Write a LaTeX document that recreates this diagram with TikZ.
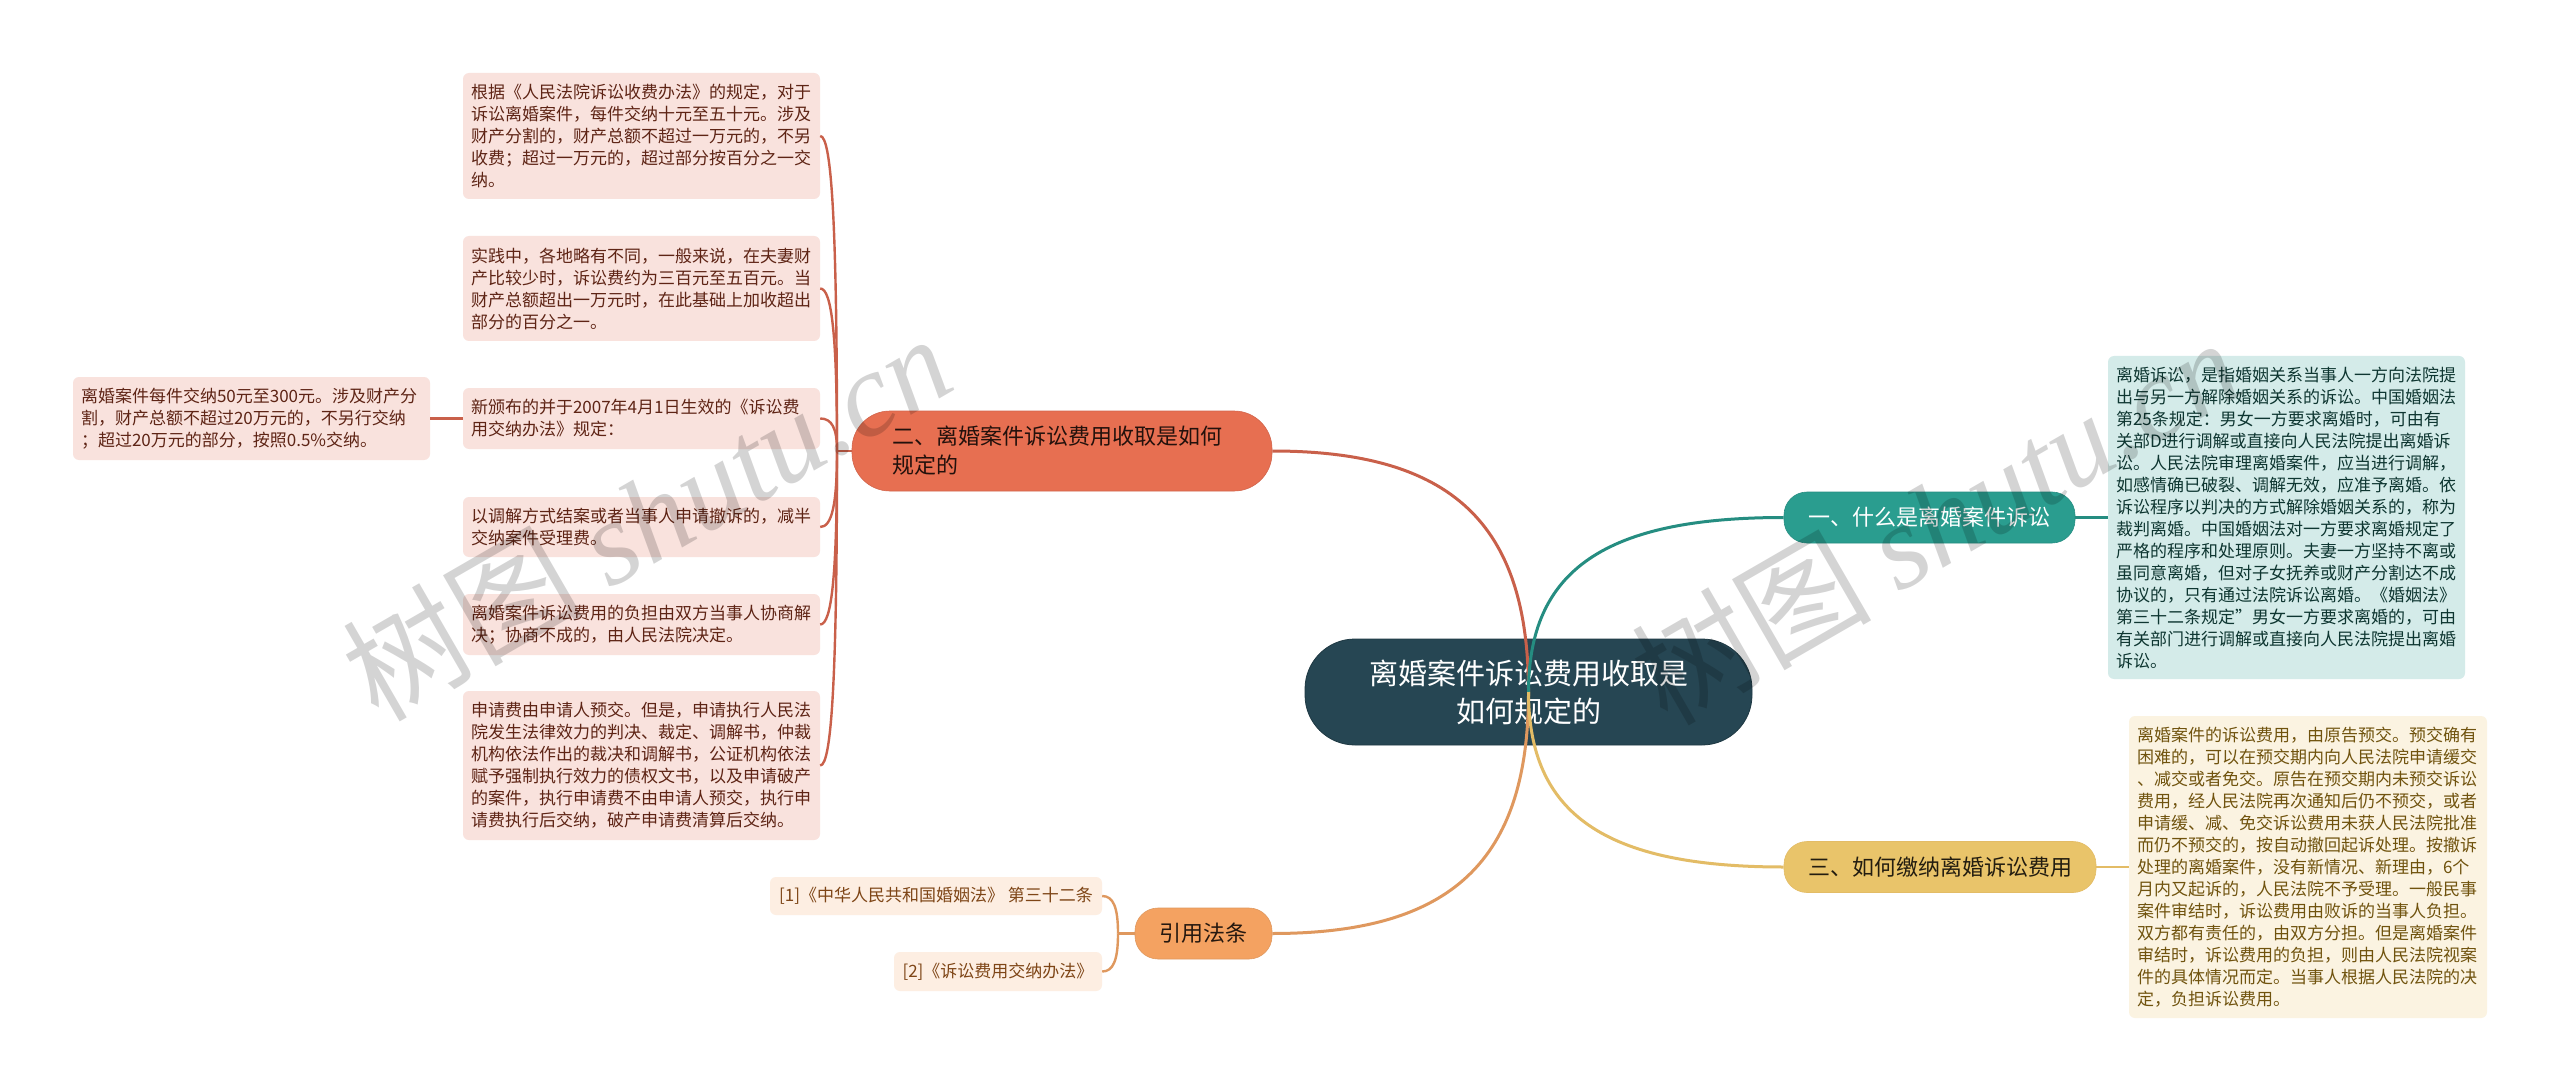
\documentclass[tikz,border=0pt]{standalone}
\usepackage{fontspec}
\setmainfont{Noto Sans CJK SC}
\newfontfamily\wmlat{Liberation Serif}
\usetikzlibrary{calc}
\definecolor{cdark}{HTML}{264653}
\definecolor{cred}{HTML}{E76F51}
\definecolor{cteal}{HTML}{2A9D8F}
\definecolor{cyel}{HTML}{E9C46A}
\definecolor{cora}{HTML}{F4A261}
\definecolor{lred}{HTML}{C9604A}
\definecolor{lteal}{HTML}{258D81}
\definecolor{lyel}{HTML}{E3BC66}
\definecolor{lora}{HTML}{DF985E}
\definecolor{tred}{HTML}{F9E2DD}
\definecolor{tteal}{HTML}{D4EBE9}
\definecolor{tyel}{HTML}{FBF3E1}
\definecolor{tora}{HTML}{FDEEE2}
\definecolor{xred}{HTML}{5E2415}
\definecolor{xteal}{HTML}{0E3631}
\definecolor{xyel}{HTML}{70530E}
\definecolor{xora}{HTML}{7E4516}
\tikzset{
  detailbox/.style={rectangle,rounded corners=6pt,inner sep=0pt,align=left,
    font=\fontsize{17}{22}\selectfont},
  redbox/.style={detailbox,fill=tred,text=xred},
  tealbox/.style={detailbox,fill=tteal,text=xteal},
  yelbox/.style={detailbox,fill=tyel,text=xyel},
  orabox/.style={detailbox,fill=tora,text=xora},
  branchbox/.style={rectangle,inner sep=0pt,align=left,line width=0.6pt,
    font=\fontsize{22}{29}\selectfont},
  rootbox/.style={rectangle,rounded corners=50pt,inner sep=0pt,align=center,
    fill=cdark,draw=cdark!80!black,line width=0.8pt,text=white,
    font=\fontsize{29}{38}\selectfont},
  mainline/.style={line width=3pt},
  subline/.style={line width=2.4pt},
  wmark/.style={rotate=30,text=black,text opacity=0.17,inner sep=0pt,
    font=\fontsize{120}{120}\selectfont}
}
\newcommand{\kurve}[3]{\draw[#1] (#2) .. controls ($(#2)!0.7!(#2|-#3)$) and ($(#3)!0.7!(#2|-#3)$) .. (#3);}
\begin{document}
\begin{tikzpicture}[x=1pt,y=-1pt]
\useasboundingbox (0,0) rectangle (2560,1091);
\fill[white] (0,0) rectangle (2560,1091);

% root
\node[rootbox,minimum width=447pt,minimum height=106pt] (root) at (1528.5,692) {离婚案件诉讼费用收取是\\如何规定的};

% branches
\node[branchbox,fill=cred,draw=lred!70!cred,rounded corners=38pt,minimum width=420pt,minimum height=80pt,text=black!85!cred,text width=340pt] (n2) at (1062,451) {二、离婚案件诉讼费用收取是如何\\规定的};
\node[branchbox,fill=cteal,draw=lteal,rounded corners=23pt,minimum width=291pt,minimum height=51pt,text=white] (n1) at (1929.5,517.5) {一、什么是离婚案件诉讼};
\node[branchbox,fill=cyel,draw=lyel,rounded corners=23pt,minimum width=312pt,minimum height=51pt,text=black!85!cyel] (n3) at (1940,867) {三、如何缴纳离婚诉讼费用};
\node[branchbox,fill=cora,draw=lora,rounded corners=23pt,minimum width=137pt,minimum height=51pt,text=black!85!cora] (n4) at (1203.5,933.5) {引用法条};

% details of branch two
\node[redbox,minimum width=357pt,minimum height=126pt,text width=341pt] (a1) at (641.5,136) {根据《人民法院诉讼收费办法》的规定，对于\\诉讼离婚案件，每件交纳十元至五十元。涉及\\财产分割的，财产总额不超过一万元的，不另\\收费；超过一万元的，超过部分按百分之一交\\纳。};
\node[redbox,minimum width=357pt,minimum height=105pt,text width=341pt] (a2) at (641.5,288.5) {实践中，各地略有不同，一般来说，在夫妻财\\产比较少时，诉讼费约为三百元至五百元。当\\财产总额超出一万元时，在此基础上加收超出\\部分的百分之一。};
\node[redbox,minimum width=357pt,minimum height=61pt,text width=341pt] (a3) at (641.5,418.5) {新颁布的并于2007年4月1日生效的《诉讼费\\用交纳办法》规定：};
\node[redbox,minimum width=357pt,minimum height=83pt,text width=341pt] (a7) at (251.5,418.5) {离婚案件每件交纳50元至300元。涉及财产分\\割，财产总额不超过20万元的，不另行交纳\\；超过20万元的部分，按照0.5\%交纳。};
\node[redbox,minimum width=357pt,minimum height=60pt,text width=341pt] (a4) at (641.5,527) {以调解方式结案或者当事人申请撤诉的，减半\\交纳案件受理费。};
\node[redbox,minimum width=357pt,minimum height=61pt,text width=341pt] (a5) at (641.5,624.5) {离婚案件诉讼费用的负担由双方当事人协商解\\决；协商不成的，由人民法院决定。};
\node[redbox,minimum width=357pt,minimum height=149pt,text width=341pt] (a6) at (641.5,765.5) {申请费由申请人预交。但是，申请执行人民法\\院发生法律效力的判决、裁定、调解书，仲裁\\机构依法作出的裁决和调解书，公证机构依法\\赋予强制执行效力的债权文书，以及申请破产\\的案件，执行申请费不由申请人预交，执行申\\请费执行后交纳，破产申请费清算后交纳。};

% details of the others
\node[tealbox,minimum width=357pt,minimum height=323pt,text width=341pt] (d1) at (2286.5,517.5) {离婚诉讼，是指婚姻关系当事人一方向法院提\\出与另一方解除婚姻关系的诉讼。中国婚姻法\\第25条规定：男女一方要求离婚时，可由有\\关部D进行调解或直接向人民法院提出离婚诉\\讼。人民法院审理离婚案件，应当进行调解，\\如感情确已破裂、调解无效，应准予离婚。依\\诉讼程序以判决的方式解除婚姻关系的，称为\\裁判离婚。中国婚姻法对一方要求离婚规定了\\严格的程序和处理原则。夫妻一方坚持不离或\\虽同意离婚，但对子女抚养或财产分割达不成\\协议的，只有通过法院诉讼离婚。《婚姻法》\\第三十二条规定"男女一方要求离婚的，可由\\有关部门进行调解或直接向人民法院提出离婚\\诉讼。};
\node[yelbox,minimum width=358pt,minimum height=302pt,text width=342pt] (d3) at (2308,867) {离婚案件的诉讼费用，由原告预交。预交确有\\困难的，可以在预交期内向人民法院申请缓交\\、减交或者免交。原告在预交期内未预交诉讼\\费用，经人民法院再次通知后仍不预交，或者\\申请缓、减、免交诉讼费用未获人民法院批准\\而仍不预交的，按自动撤回起诉处理。按撤诉\\处理的离婚案件，没有新情况、新理由，6个\\月内又起诉的，人民法院不予受理。一般民事\\案件审结时，诉讼费用由败诉的当事人负担。\\双方都有责任的，由双方分担。但是离婚案件\\审结时，诉讼费用的负担，则由人民法院视案\\件的具体情况而定。当事人根据人民法院的决\\定，负担诉讼费用。};
\node[orabox,minimum width=332pt,minimum height=38pt] (r1) at (936,896) {[1]《中华人民共和国婚姻法》 第三十二条};
\node[orabox,minimum width=208pt,minimum height=39pt] (r2) at (998,971.5) {[2]《诉讼费用交纳办法》};

% junctions
\coordinate (ctr) at (root.center);
\coordinate (j2) at (837,451);
\coordinate (j4) at (1118,933.5);

% main connectors
\kurve{mainline,lred}{ctr}{n2.east}
\kurve{mainline,lteal}{ctr}{n1.west}
\kurve{mainline,lora}{ctr}{n4.east}
\kurve{mainline,lyel}{ctr}{n3.west}

% branch two
\draw[subline,lred] (n2.west) -- (j2);
\foreach \b in {a1,a2,a3,a4,a5,a6}{\kurve{subline,lred}{j2}{\b.east}}
\draw[subline,lred,line width=3pt] (a7.east) -- (a3.west);

% the others
\draw[subline,lteal] (n1.east) -- (d1.west);
\draw[subline,lyel] (n3.east) -- (d3.west);
\draw[subline,lora] (n4.west) -- (j4);
\kurve{subline,lora}{j4}{r1.east}
\kurve{subline,lora}{j4}{r2.east}

% watermarks
\node[wmark] (w1) at (646,516) {树图 {\wmlat\itshape shutu.cn}};
\node[wmark] (w2) at (1935,520) {树图 {\wmlat\itshape shutu.cn}};
\end{tikzpicture}
\end{document}
